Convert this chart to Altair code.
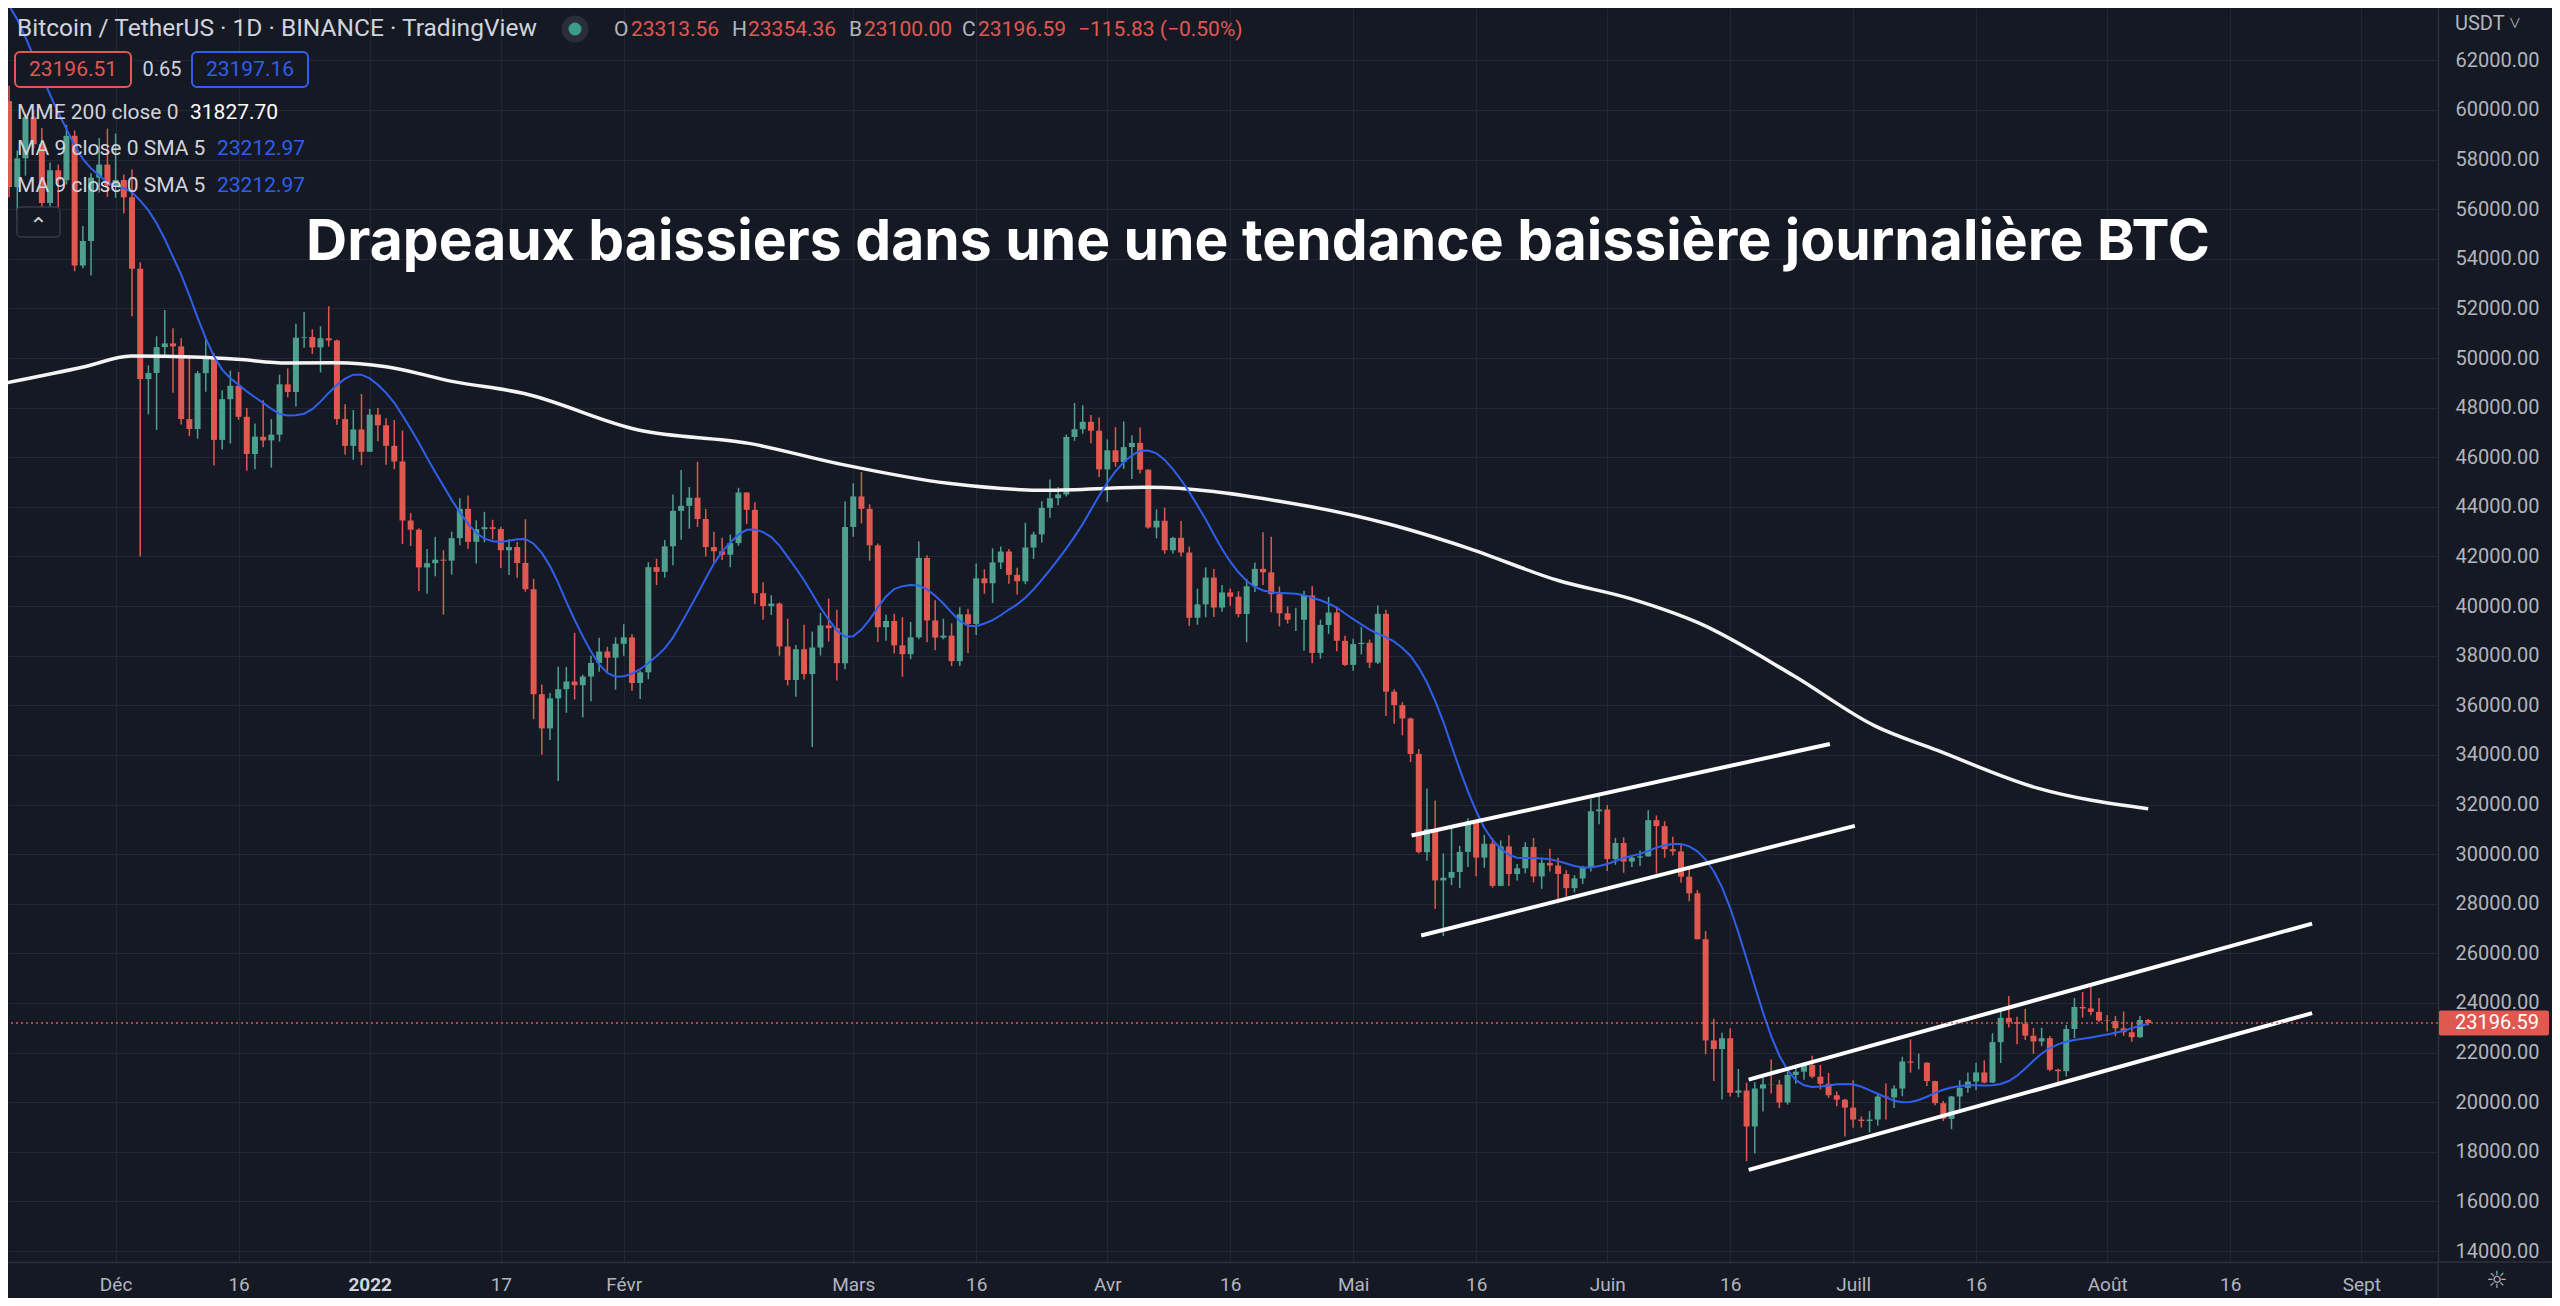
import altair as alt
import pandas as pd

# ---------------- daily candles BTC/USDT (5 Nov 2021 -> 6 Aug 2022) ----------------
nov_open = [61400, 61010, 61530, 63300, 67550, 66940, 64880, 64800, 64160, 64400, 65500, 63580, 60100,
            60360, 56890, 58050, 59710, 58620, 56250, 57570, 57170, 58960, 53730, 54720, 57270, 57800]
nov_high = [62600, 61600, 63500, 67790, 68530, 69000, 65600, 65460, 64980, 65800, 66400, 63620, 60800,
            60980, 58370, 59850, 60000, 59270, 57880, 57800, 59400, 59180, 55320, 57450, 58870, 59250]
nov_low = [60720, 60100, 61380, 63120, 66380, 62820, 64100, 62330, 63360, 63600, 63420, 58580, 58380,
           56480, 55600, 57350, 58470, 55610, 55320, 55850, 57000, 53500, 53620, 53330, 56670, 56500]
nov_close = [61010, 61530, 63300, 67550, 66940, 64880, 64800, 64160, 64400, 65500, 63580, 60100, 60360,
             56890, 58050, 59710, 58620, 56250, 57570, 57170, 58960, 53730, 54720, 57270, 57800, 56950]

dec_open = [56950, 57180, 56480, 53600, 49150, 49400, 50440, 50590, 50470, 47540, 47140, 49390, 50050, 46700,
            48340, 48880, 47630, 46130, 46830, 46680, 46910, 48940, 48630, 50820, 50850, 50430, 50800, 50710,
            47540, 46460, 47120]
dec_high = [59050, 57400, 57600, 53860, 49700, 50880, 51940, 51200, 50800, 50100, 49480, 50790, 50200, 48700,
            49500, 49440, 47990, 47360, 48300, 47540, 49330, 49580, 51380, 51860, 51160, 51280, 52090, 50750,
            48140, 47900, 48550]
dec_low = [56460, 55830, 51680, 42000, 47730, 47100, 50040, 48600, 47320, 46850, 46750, 48640, 45670, 46310,
           46550, 47510, 45460, 45520, 46400, 45580, 46630, 48420, 48050, 50420, 50170, 49420, 50460, 47310,
           46100, 45900, 45680]
dec_close = [57180, 56480, 53600, 49150, 49400, 50440, 50590, 50470, 47540, 47140, 49390, 50050, 46700, 48340,
             48880, 47630, 46130, 46830, 46680, 46910, 48940, 48630, 50820, 50850, 50430, 50800, 50710, 47540,
             46460, 47120, 46220]

jan_open = [46220, 47720, 47290, 46460, 45830, 43450, 43080, 41560, 41730, 41870, 41830, 42740, 43920, 42590,
            43100, 43180, 43110, 42250, 42380, 41740, 40680, 36450, 35070, 36280, 36650, 36960, 36810, 37160,
            37710, 38170, 37920]
jan_high = [47950, 47990, 47570, 47500, 47070, 43750, 43140, 42300, 42790, 42250, 43000, 44350, 44460, 43460,
            43800, 43480, 43200, 42700, 42580, 43500, 41100, 36840, 36500, 37550, 37550, 38920, 37230, 38000,
            38720, 38360, 38740]
jan_low = [46210, 46650, 45700, 45520, 42500, 42420, 40610, 40500, 41200, 39650, 41270, 42450, 42310, 41720,
           42570, 42690, 41540, 41250, 41140, 40580, 35440, 34010, 34600, 32950, 35700, 36230, 35510, 36160,
           37350, 37350, 36630]
jan_close = [47720, 47290, 46460, 45830, 43450, 43080, 41560, 41730, 41870, 41830, 42740, 43920, 42590, 43100,
             43180, 43110, 42250, 42380, 41740, 40680, 36450, 35070, 36280, 36650, 36960, 36810, 37160, 37710,
             38170, 37920, 38480]

feb_open = [38480, 38740, 36900, 37330, 41570, 41380, 42410, 43840, 44040, 44370, 43510, 42380, 42210, 42070,
            42540, 44580, 43880, 40520, 40000, 40100, 38370, 37020, 38260, 37260, 38330, 39220, 39110, 37700]
feb_high = [39270, 38860, 37390, 41770, 41910, 42660, 44500, 45490, 44800, 45820, 43920, 43000, 42760, 42880,
            44770, 44580, 44190, 40960, 40440, 40150, 39490, 38430, 39250, 38970, 39730, 40300, 39850, 44220]
feb_low = [38000, 36590, 36250, 37050, 40850, 41150, 41650, 42670, 43120, 43190, 42000, 41750, 41860, 41570,
           42430, 43310, 40070, 39450, 39640, 38000, 36800, 36350, 37040, 34320, 38010, 38570, 37000, 37450]
feb_close = [38740, 36900, 37330, 41570, 41380, 42410, 43840, 44040, 44370, 43510, 42380, 42210, 42070, 42540,
             44580, 43880, 40520, 40000, 40100, 38370, 37020, 38260, 37260, 38330, 39220, 39110, 37700, 43190]

mar_open = [43190, 44420, 43920, 42450, 39150, 39400, 38420, 38060, 38740, 41940, 39420, 38730, 38810, 37780,
            39670, 39280, 41120, 40920, 41760, 42200, 41260, 41000, 42360, 42890, 43960, 44350, 44500, 46820,
            47130, 47430, 47070]
mar_high = [44950, 45400, 44100, 42520, 39650, 39690, 39550, 39360, 42600, 42050, 40240, 39490, 39300, 39950,
            39880, 41720, 41480, 42330, 42400, 42300, 41550, 43360, 43000, 44230, 45100, 44800, 46920, 48190,
            48100, 47700, 47600]
mar_low = [42800, 43330, 41830, 38550, 38600, 38090, 37150, 37860, 38660, 38540, 38220, 38660, 37580, 37580,
           38110, 38830, 40500, 40130, 41500, 40900, 40470, 40880, 41900, 42560, 43560, 44070, 44420, 46660,
           46950, 46560, 45200]
mar_close = [44420, 43920, 42450, 39150, 39400, 38420, 38060, 38740, 41940, 39420, 38730, 38810, 37780, 39670,
             39280, 41120, 40920, 41760, 42200, 41260, 41000, 42360, 42890, 43960, 44350, 44500, 46820, 47130,
             47430, 47070, 45510]

apr_open = [45510, 46280, 45810, 46410, 46580, 45500, 43170, 43440, 42250, 42750, 42160, 39530, 40070, 41150,
            39940, 40550, 40380, 39680, 40800, 41500, 41360, 40480, 39710, 39450, 39450, 40430, 38110, 39240,
            39740, 38600]
apr_high = [46720, 47210, 47440, 46890, 47200, 45510, 43900, 43970, 42800, 43430, 42400, 40700, 41560, 41500,
            40850, 40710, 40600, 41100, 41760, 42980, 42800, 40790, 39990, 39930, 40620, 40800, 39450, 40370,
            39920, 38800]
apr_low = [44200, 45620, 45530, 45120, 45350, 43120, 42730, 42110, 42120, 42000, 39200, 39250, 39550, 39560,
           39770, 40010, 39550, 38540, 40570, 40850, 39750, 39180, 39290, 39000, 38200, 37700, 37880, 38880,
           38180, 37580]
apr_close = [46280, 45810, 46410, 46580, 45500, 43170, 43440, 42250, 42750, 42160, 39530, 40070, 41150, 39940,
             40550, 40380, 39680, 40800, 41500, 41360, 40480, 39710, 39450, 39450, 40430, 38110, 39240, 39740,
             38600, 37630]

may_open = [37630, 38470, 38520, 37720, 39690, 36550, 36010, 35470, 34040, 30080, 31010, 28940, 29050, 29280,
            30090, 31320, 29860, 30420, 28720, 30310, 29200, 29430, 30290, 29100, 29650, 29540, 29200, 28630,
            29020, 29470, 31730]
may_high = [38680, 39160, 38650, 40020, 39850, 36650, 36130, 35500, 34240, 32650, 32160, 30030, 31080, 30330,
            31450, 31320, 30780, 30650, 30550, 30760, 29600, 30480, 30650, 29800, 30220, 29850, 29350, 29150,
            29530, 32220, 32400]
may_low = [37390, 38050, 37500, 37670, 35570, 35260, 34790, 33710, 30030, 29730, 27790, 26700, 28750, 28630,
           29480, 29110, 29450, 28650, 28710, 28720, 28940, 29230, 28860, 28600, 29300, 28020, 28270, 28460,
           28800, 29300, 31200]
may_close = [38470, 38520, 37720, 39690, 36550, 36010, 35470, 34040, 30080, 31010, 28940, 29050, 29280, 30090,
             31320, 29860, 30420, 28720, 30310, 29200, 29430, 30290, 29100, 29650, 29540, 29200, 28630, 29020,
             29470, 31730, 31800]

jun_open = [31800, 29800, 30450, 29700, 29860, 29910, 31370, 31130, 30200, 30110, 29090, 28420, 26570, 22490,
            22140, 22580, 20380, 20470, 19020, 20550, 20720, 20710, 19990, 21100, 21230, 21500, 21030, 20740,
            20280, 20100]
jun_high = [31980, 30660, 30680, 29950, 30150, 31770, 31560, 31330, 30700, 30390, 29440, 28550, 26900, 23360,
            22800, 22980, 21340, 20790, 20800, 21000, 21720, 20900, 21250, 21520, 21600, 21870, 21500, 21180,
            20430, 20140]
jun_low = [29320, 29570, 29250, 29480, 29520, 29890, 29220, 29850, 29950, 28850, 28100, 26560, 21925, 20850,
           20110, 20230, 20200, 17620, 17930, 19620, 20350, 19770, 19900, 20740, 20900, 20960, 20510, 20180,
           19840, 18620]
jun_close = [29800, 30450, 29700, 29860, 29910, 31370, 31130, 30200, 30110, 29090, 28420, 26570, 22490, 22140,
             22580, 20380, 20470, 19020, 20550, 20720, 20710, 19990, 21100, 21230, 21500, 21030, 20740, 20280,
             20100, 19780]

jul_open = [19780, 19300, 19240, 19300, 20230, 20190, 20550, 21640, 21590, 21590, 20850, 19960, 19330, 20230,
            20580, 20830, 21200, 20790, 22420, 23400, 23230, 23160, 22680, 22450, 22580, 21310, 21250, 22950,
            23840, 23780, 23640]
jul_high = [20880, 19430, 19650, 20350, 20750, 20670, 21830, 22530, 21960, 21610, 20860, 20050, 20250, 20880,
            21200, 21590, 21690, 22780, 23800, 24280, 23440, 23760, 22990, 23000, 22670, 21350, 23110, 24200,
            24440, 24670, 24200]
jul_low = [18970, 18980, 18780, 19050, 19300, 19770, 20240, 21190, 21320, 20650, 19880, 19240, 18910, 19620,
           20380, 20480, 20760, 20770, 21580, 23010, 22340, 22510, 21950, 22260, 21250, 20700, 21040, 22580,
           23410, 23500, 23230]
jul_close = [19300, 19240, 19300, 20230, 20190, 20550, 21640, 21590, 21590, 20850, 19960, 19330, 20230, 20580,
             20830, 21200, 20790, 22420, 23400, 23230, 23160, 22680, 22450, 22580, 21310, 21250, 22950, 23840,
             23780, 23640, 23290]

aug_open = [23290, 23270, 22980, 22820, 22620, 23313.56]
aug_high = [23510, 23470, 23650, 23220, 23470, 23354.36]
aug_low = [22850, 22660, 22680, 22440, 22590, 23100.00]
aug_close = [23270, 22980, 22820, 22620, 23313.56, 23196.59]

first_day = "2021-11-05"

# ---------------- EMA 200 ----------------
ema_dates = ["2021-11-17T12:00:00", "2021-11-27T05:00:00", "2021-12-02T22:00:00", "2021-12-11T08:00:00",
             "2021-12-15T20:00:00", "2021-12-21T22:00:00", "2021-12-28T00:00:00", "2022-01-03T00:00:00",
             "2022-01-11T05:00:00", "2022-01-19T17:00:00", "2022-02-02T22:00:00", "2022-02-16T07:00:00",
             "2022-02-27T05:00:00", "2022-03-12T14:00:00", "2022-03-24T17:00:00", "2022-04-05T22:00:00",
             "2022-04-22T00:00:00", "2022-05-05T05:00:00", "2022-05-15T02:00:00", "2022-05-25T22:00:00",
             "2022-06-03T22:00:00", "2022-06-12T05:00:00", "2022-06-23T17:00:00", "2022-07-03T17:00:00",
             "2022-07-11T05:00:00", "2022-07-23T12:00:00", "2022-08-06T00:00:00"]
ema_values = [48990, 49650, 50080, 50030, 49950, 49800, 49810, 49650, 49050, 48580, 47090, 46560, 45740,
              44950, 44670, 44790, 44230, 43320, 42330, 41040, 40290, 39310, 37200, 35160, 34190, 32660, 31828]

# ---------------- hand-drawn flag lines ----------------
line_start_dates = ["2022-05-08T03:00:00", "2022-05-09T07:00:00", "2022-06-18T06:00:00", "2022-06-18T06:00:00"]
line_start_prices = [30750, 26720, 20910, 17270]
line_end_dates = ["2022-06-28T04:00:00", "2022-07-01T05:00:00", "2022-08-26T00:00:00", "2022-08-26T00:00:00"]
line_end_prices = [34440, 31140, 27200, 23590]

# ---------------- axes ----------------
tick_dates = ["2021-12-01", "2021-12-16", "2022-01-01", "2022-01-17", "2022-02-01", "2022-03-01", "2022-03-16",
              "2022-04-01", "2022-04-16", "2022-05-01", "2022-05-16", "2022-06-01", "2022-06-16", "2022-07-01",
              "2022-07-16", "2022-08-01", "2022-08-16", "2022-09-01"]
tick_labels = ["Déc", "16", "2022", "17", "Févr", "Mars", "16", "Avr", "16", "Mai", "16", "Juin", "16",
               "Juill", "16", "Août", "16", "Sept"]
price_ticks = [14000, 16000, 18000, 20000, 22000, 24000, 26000, 28000, 30000, 32000, 34000, 36000, 38000,
               40000, 42000, 44000, 46000, 48000, 50000, 52000, 54000, 56000, 58000, 60000, 62000]

last_price = 23196.59
title_text = "Drapeaux baissiers dans une une tendance baissière journalière BTC"

# ---------------- styling ----------------
BG = "#151924"
GRID = "#232733"
BORDER = "#2c303b"
TXT = "#d1d4dc"
AXT = "#b2b5be"
UP = "#4f9f8f"
DOWN = "#e05850"
BLUE = "#2f5fec"
W, H = 2430, 1254

opens = nov_open + dec_open + jan_open + feb_open + mar_open + apr_open + may_open + jun_open + jul_open + aug_open
highs = nov_high + dec_high + jan_high + feb_high + mar_high + apr_high + may_high + jun_high + jul_high + aug_high
lows = nov_low + dec_low + jan_low + feb_low + mar_low + apr_low + may_low + jun_low + jul_low + aug_low
closes = nov_close + dec_close + jan_close + feb_close + mar_close + apr_close + may_close + jun_close + jul_close + aug_close

days = pd.date_range(first_day, periods=len(closes), freq="D").strftime("%Y-%m-%dT00:00:00")
df = pd.DataFrame({"date": list(days), "open": opens, "high": highs, "low": lows, "close": closes})
ema_df = pd.DataFrame({"date": ema_dates, "value": ema_values})
lines_df = pd.DataFrame({"d1": line_start_dates, "p1": line_start_prices,
                         "d2": line_end_dates, "p2": line_end_prices})
one = pd.DataFrame({"v": [0]})


def dt(s, hours=0, minutes=0):
    return alt.DateTime(year=int(s[:4]), month=int(s[5:7]), date=int(s[8:10]), hours=hours, minutes=minutes)


label_expr = "''"
for d, l in zip(reversed(tick_dates), reversed(tick_labels)):
    label_expr = f"(timeFormat(datum.value, '%Y-%m-%d') == '{d}' ? '{l}' : {label_expr})"

is_year = "timeFormat(datum.value, '%Y-%m-%d') == '2022-01-01'"

xscale = alt.Scale(domain=[dt("2021-11-18", 11, 30), dt("2022-09-09", 18, 0)], nice=False)
yscale = alt.Scale(domain=[13557, 64112], zero=False, nice=False)

xaxis = alt.Axis(values=[dt(d) for d in tick_dates], labelExpr=label_expr, title=None, orient="bottom",
                 grid=True, gridColor=GRID, gridWidth=1, domain=True, domainColor=BORDER, domainWidth=1.5,
                 ticks=False, tickSize=0, labelPadding=22, labelBaseline="middle", labelFontSize=19,
                 labelFont="Roboto", labelColor={"expr": f"{is_year} ? '#d1d4dc' : '#b2b5be'"},
                 labelFontWeight={"expr": f"{is_year} ? 'bold' : 'normal'"},
                 labelFlush=False, labelOverlap=False, zindex=0)
yaxis = alt.Axis(values=price_ticks, format=".2f", title=None, orient="right", grid=True, gridColor=GRID,
                 gridWidth=1, domain=True, domainColor=BORDER, domainWidth=1.5, ticks=False, tickSize=0,
                 labelPadding=17, labelFontSize=20, labelFont="Roboto", labelColor=AXT, labelAlign="left",
                 labelBaseline="middle", labelFlush=False, labelOverlap=False, zindex=0)


def X(f):
    return alt.X(f, type="temporal", scale=xscale, axis=xaxis)


def Y(f):
    return alt.Y(f, type="quantitative", scale=yscale, axis=yaxis)


candle_color = alt.condition("datum.close >= datum.open", alt.value(UP), alt.value(DOWN))
base = alt.Chart(df)

wicks = base.mark_rule(strokeWidth=1.5, clip=True).encode(x=X("date"), y=Y("low"), y2="high", color=candle_color)
bodies = base.mark_bar(size=6, clip=True).encode(x=X("date"), y=Y("open"), y2="close", color=candle_color)

ma = (base.transform_window(ma9="mean(close)", frame=[-8, 0], sort=[alt.SortField("date", order="ascending")])
      .transform_window(ma="mean(ma9)", frame=[-4, 0], sort=[alt.SortField("date", order="ascending")])
      .mark_line(color=BLUE, strokeWidth=2, clip=True)
      .encode(x=X("date"), y=Y("ma")))

ema = alt.Chart(ema_df).mark_line(color="#f4f4f4", strokeWidth=3.5, interpolate="monotone", clip=True).encode(
    x=X("date"), y=Y("value"))

flags = alt.Chart(lines_df).mark_rule(color="#ffffff", strokeWidth=4, clip=True).encode(
    x=X("d1"), x2="d2", y=Y("p1"), y2="p2")

price_line = alt.Chart(one).mark_rule(color=DOWN, strokeDash=[2, 3], strokeWidth=1.5).encode(
    y=alt.YDatum(last_price, type="quantitative", scale=yscale, axis=yaxis))

price_tag = alt.Chart(one).mark_rect(color=DOWN, yOffset=-12.5, y2Offset=12.5, cornerRadius=2).encode(
    x=alt.value(W + 1), x2=alt.value(W + 111),
    y=alt.YDatum(last_price, type="quantitative", scale=yscale, axis=yaxis), y2=alt.Y2Datum(last_price))
price_tag_text = alt.Chart(one).mark_text(text=f"{last_price:.2f}", color="#ffffff", fontSize=20, font="Roboto",
                                          align="left", baseline="middle").encode(
    x=alt.value(W + 17), y=alt.YDatum(last_price, type="quantitative", scale=yscale, axis=yaxis))


def txt(s, x, y, color, size, weight="normal", align="left", font="Roboto", baseline="middle"):
    return alt.Chart(one).mark_text(text=s, color=color, fontSize=size, fontWeight=weight, align=align,
                                    baseline=baseline, font=font).encode(x=alt.value(x), y=alt.value(y))


def box(x1, x2, y1, y2, stroke, fill=BG, sw=2, r=5):
    return alt.Chart(one).mark_rect(fill=fill, stroke=stroke, strokeWidth=sw, cornerRadius=r).encode(
        x=alt.value(x1), x2=alt.value(x2), y=alt.value(y1), y2=alt.value(y2))


def rule(x1, x2, y1, y2, color=BORDER, sw=1.5):
    return alt.Chart(one).mark_rule(color=color, strokeWidth=sw).encode(
        x=alt.value(x1), x2=alt.value(x2), y=alt.value(y1), y2=alt.value(y2))


deco = [
    txt("Bitcoin / TetherUS · 1D · BINANCE · TradingView", 9, 21, TXT, 24.5),
    alt.Chart(one).mark_circle(size=729, color="#2a2e39", opacity=1).encode(x=alt.value(567), y=alt.value(21)),
    alt.Chart(one).mark_circle(size=169, color="#3c9c8c", opacity=1).encode(x=alt.value(567), y=alt.value(21)),
    txt("O", 606, 22, AXT, 21), txt("23313.56", 623, 22, DOWN, 21),
    txt("H", 724, 22, AXT, 21), txt("23354.36", 740, 22, DOWN, 21),
    txt("B", 841, 22, AXT, 21), txt("23100.00", 856, 22, DOWN, 21),
    txt("C", 954, 22, AXT, 21), txt("23196.59", 970, 22, DOWN, 21),
    txt("−115.83 (−0.50%)", 1070, 22, DOWN, 21),
    box(7, 123, 44, 79, DOWN), txt("23196.51", 65, 62, DOWN, 21, align="center"),
    txt("0.65", 154, 62, TXT, 20, align="center"),
    box(184, 300, 44, 79, BLUE), txt("23197.16", 242, 62, BLUE, 21, align="center"),
    txt("MME 200 close 0", 9, 105, TXT, 21), txt("31827.70", 182, 105, "#ffffff", 21),
    txt("MA 9 close 0 SMA 5", 9, 141, TXT, 21), txt("23212.97", 209, 141, BLUE, 21),
    txt("MA 9 close 0 SMA 5", 9, 178, TXT, 21), txt("23212.97", 209, 178, BLUE, 21),
    box(9, 52, 199, 229, "#363a45", sw=1.5, r=4), txt("⌃", 30.5, 218, TXT, 22, align="center", font="DejaVu Sans"),
    txt(title_text, 1250, 252, "#ffffff", 57, weight="bold", align="center", font="Inter", baseline="alphabetic"),
    txt("USDT ˅", W + 17, 16, AXT, 20),
    rule(W, W, H, H + 36), rule(W, W + 114, H, H),
    txt("☼", W + 59, H + 19, AXT, 24, align="center", font="DejaVu Sans"),
]

chart = alt.layer(wicks, bodies, ema, ma, flags, price_line, price_tag, price_tag_text, *deco).properties(
    width=W, height=H,
    padding={"left": 0, "top": 0, "right": 114, "bottom": 36},
    autosize=alt.AutoSizeParams(type="none"),
    background=BG,
).configure_view(stroke=None)

chart.save("out.html", embed_options={"renderer": "svg", "actions": False})
